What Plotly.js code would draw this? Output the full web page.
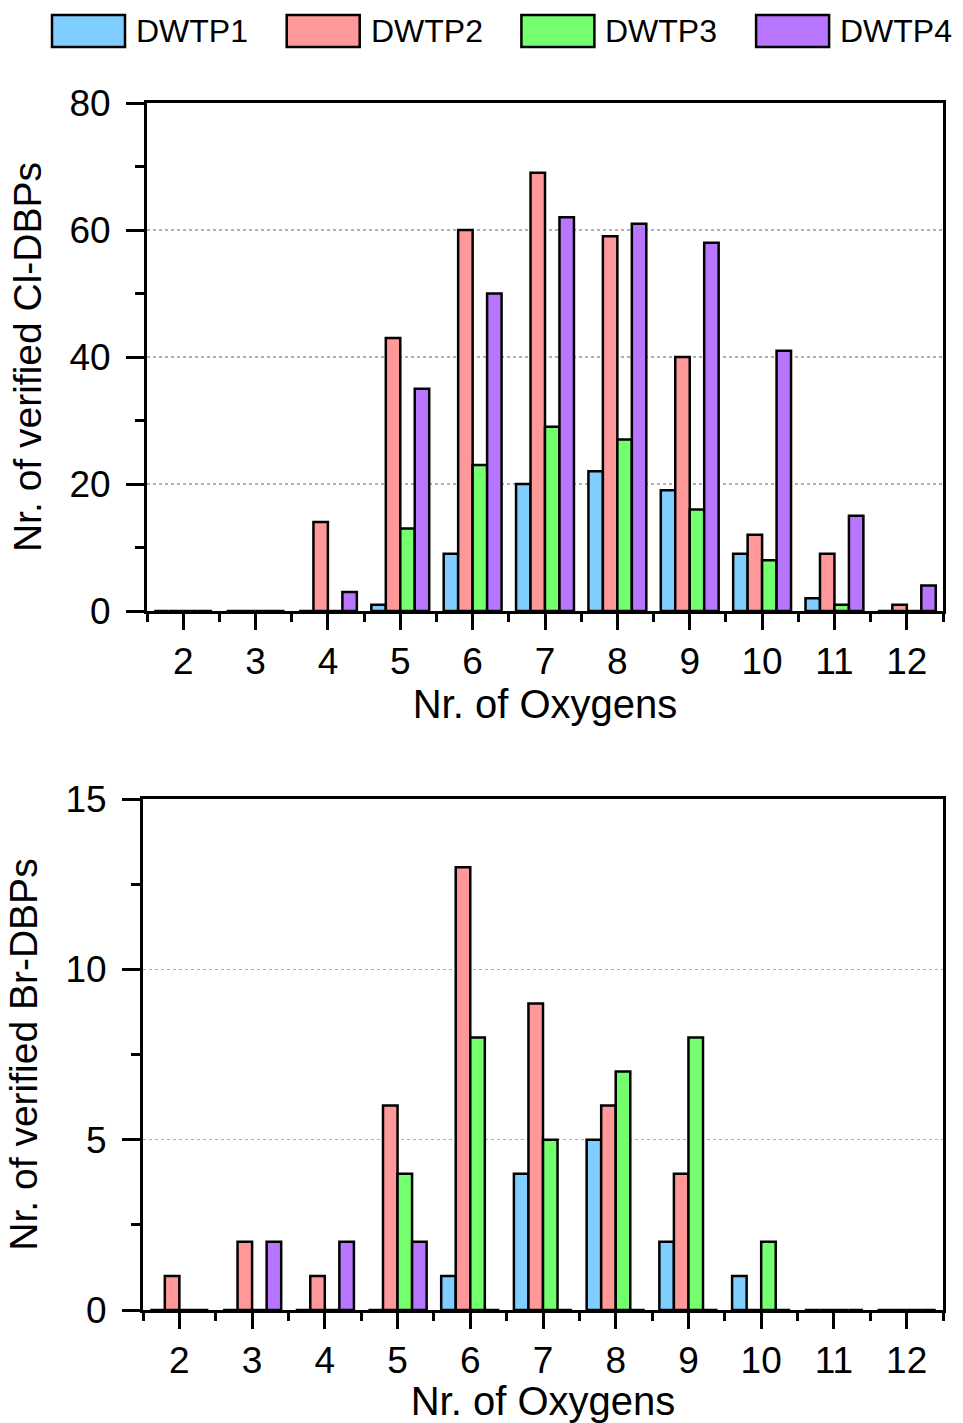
<!DOCTYPE html>
<html>
<head>
<meta charset="utf-8">
<script src="https://cdn.plot.ly/plotly-3.0.1.min.js"></script>
<style>
  html, body { margin: 0; padding: 0; background: #ffffff; }
  #chart { width: 963px; height: 1423px; }
</style>
</head>
<body>
<div id="chart"></div>
<script>
// ---- data ----
const oxygens = [2, 3, 4, 5, 6, 7, 8, 9, 10, 11, 12];
const seriesNames = ['DWTP1', 'DWTP2', 'DWTP3', 'DWTP4'];
const seriesColors = ['#80CDFF', '#FF9999', '#74FF6E', '#B875FF'];

const clDWTP1 = [0, 0, 0, 1, 9, 20, 22, 19, 9, 2, 0];
const clDWTP2 = [0, 0, 14, 43, 60, 69, 59, 40, 12, 9, 1];
const clDWTP3 = [0, 0, 0, 13, 23, 29, 27, 16, 8, 1, 0];
const clDWTP4 = [0, 0, 3, 35, 50, 62, 61, 58, 41, 15, 4];

const brDWTP1 = [0, 0, 0, 0, 1, 4, 5, 2, 1, 0, 0];
const brDWTP2 = [1, 2, 1, 6, 13, 9, 6, 4, 0, 0, 0];
const brDWTP3 = [0, 0, 0, 4, 8, 5, 7, 8, 2, 0, 0];
const brDWTP4 = [0, 2, 2, 2, 0, 0, 0, 0, 0, 0, 0];

const xTitle = 'Nr. of Oxygens';
const yTitleCl = 'Nr. of verified Cl-DBPs';
const yTitleBr = 'Nr. of verified Br-DBPs';

// ---- build ----
const FONT = 'Liberation Sans, Arial, Helvetica, sans-serif';
const W = 963, H = 1423;
const clSeries = [clDWTP1, clDWTP2, clDWTP3, clDWTP4];
const brSeries = [brDWTP1, brDWTP2, brDWTP3, brDWTP4];

const traces = [];
clSeries.forEach((vals, i) => {
  traces.push({
    type: 'bar', x: oxygens, y: vals, name: seriesNames[i],
    xaxis: 'x', yaxis: 'y', showlegend: false,
    marker: { color: seriesColors[i], line: { color: '#000', width: 2.5 } }
  });
});
brSeries.forEach((vals, i) => {
  traces.push({
    type: 'bar', x: oxygens, y: vals, name: seriesNames[i],
    xaxis: 'x2', yaxis: 'y2', showlegend: false,
    marker: { color: seriesColors[i], line: { color: '#000', width: 2.5 } }
  });
});

function xAxis(domain, anchor) {
  return {
    domain: domain, anchor: anchor, range: [1.5, 12.5],
    tickmode: 'linear', tick0: 2, dtick: 1,
    ticks: 'outside', ticklen: 16, tickwidth: 3, tickcolor: '#000',
    showline: true, linewidth: 3, linecolor: '#000', mirror: true,
    showgrid: false, zeroline: false,
    tickfont: { family: FONT, size: 37, color: '#000' },
    ticklabelstandoff: 0,
    minor: { tick0: 1.5, dtick: 1, ticks: 'outside', ticklen: 8, tickwidth: 3, tickcolor: '#000', showgrid: false },
    title: { text: xTitle, font: { family: FONT, size: 40, color: '#000' }, standoff: 2 },
    automargin: false, fixedrange: true
  };
}
function yAxis(domain, anchor, range, dtick, minorDtick, title) {
  return {
    domain: domain, anchor: anchor, range: range,
    tickmode: 'linear', tick0: 0, dtick: dtick,
    ticks: 'outside', ticklen: 18, tickwidth: 3, tickcolor: '#000',
    showline: true, linewidth: 3, linecolor: '#000', mirror: true,
    showgrid: true, gridcolor: '#b0b0b0', gridwidth: 1.5, griddash: 'dot',
    zeroline: false,
    tickfont: { family: FONT, size: 37, color: '#000' },
    ticklabelstandoff: 8,
    minor: { tick0: 0, dtick: minorDtick, ticks: 'outside', ticklen: 9, tickwidth: 3, tickcolor: '#000', showgrid: false },
    title: { text: title, font: { family: FONT, size: 39, color: '#000' }, standoff: 16 },
    automargin: false, fixedrange: true
  };
}

// legend drawn as boxes + text labels
const shapes = [];
const annotations = [];
const legX0 = 52, legStep = 234.7, boxW = 73, boxTop = 15, boxBot = 47;
seriesNames.forEach((nm, i) => {
  const x0 = legX0 + i * legStep;
  shapes.push({
    type: 'rect', xref: 'paper', yref: 'paper',
    x0: x0 / W, x1: (x0 + boxW) / W, y0: 1 - boxBot / H, y1: 1 - boxTop / H,
    fillcolor: seriesColors[i], line: { color: '#000', width: 2.5 }
  });
  annotations.push({
    xref: 'paper', yref: 'paper', x: (x0 + boxW + 9) / W, y: 1 - 31 / H,
    xanchor: 'left', yanchor: 'middle', showarrow: false, text: nm,
    font: { family: FONT, size: 32, color: '#000' }
  });
});

const layout = {
  width: W, height: H,
  margin: { l: 0, r: 0, t: 0, b: 0 },
  paper_bgcolor: '#fff', plot_bgcolor: '#fff',
  barmode: 'group', bargap: 0.2, bargroupgap: 0,
  font: { family: FONT, color: '#000' },
  xaxis: xAxis([147 / W, 943 / W], 'y'),
  yaxis: yAxis([1 - 611 / H, 1 - 103 / H], 'x', [0, 80], 20, 10, yTitleCl),
  xaxis2: xAxis([143 / W, 943 / W], 'y2'),
  yaxis2: yAxis([1 - 1310 / H, 1 - 799 / H], 'x2', [0, 15], 5, 2.5, yTitleBr),
  shapes: shapes,
  annotations: annotations,
  showlegend: false
};

Plotly.newPlot('chart', traces, layout, { displayModeBar: false, staticPlot: true });
</script>
</body>
</html>
